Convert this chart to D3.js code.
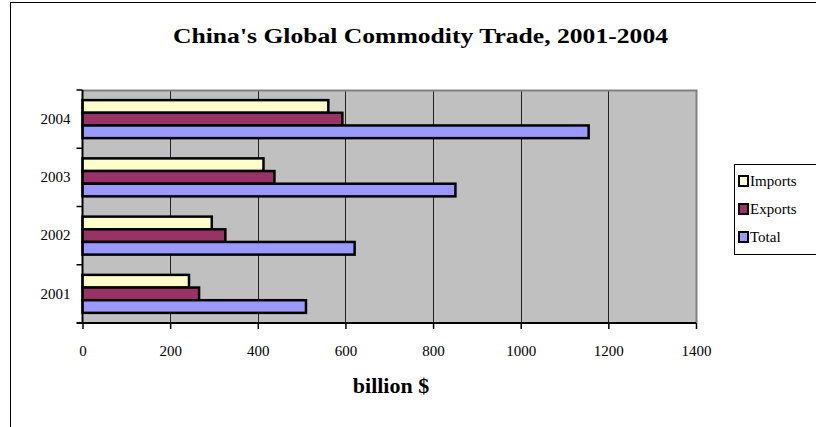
<!DOCTYPE html>
<html>
<head>
<meta charset="utf-8">
<script src="https://cdn.jsdelivr.net/npm/d3@7"></script>
<style>
	body { margin: 0; background: #fff; }
	text { font-family: "Liberation Serif", "DejaVu Serif", serif; fill: #000; }
</style>
</head>
<body>
<div id="chart"></div>
<script>
//---------------- data ----------------------
var years = ["2001", "2002", "2003", "2004"];
var series = ["Imports", "Exports", "Total"];
var imports = [243, 295, 413, 561];
var exports = [266, 326, 438, 593];
var totals = [510, 621, 851, 1155];
var xTicks = [0, 200, 400, 600, 800, 1000, 1200, 1400];
var seriesColors = ["#FFFFCC", "#993366", "#9999FF"];

var w = 816;
var h = 427;
var plotLeft = 82.5;
var plotRight = 696;
var plotTop = 90;
var plotBottom = 323;

//---------------- scales ----------------------
var xScale = d3.scaleLinear()
	.domain([0, 1400])
	.range([plotLeft, plotRight]);

// 2004 on top
var yScale = d3.scaleBand()
	.domain(years)
	.range([plotBottom, plotTop]);

var inner = d3.scaleBand()
	.domain(series)
	.range([0, yScale.bandwidth()])
	.paddingOuter(0.8);

var colors = d3.scaleOrdinal()
	.domain(series)
	.range(seriesColors);

var values = {
	"Imports": imports,
	"Exports": exports,
	"Total": totals
};

var svg = d3.select("#chart").append("svg")
	.attr("width", w)
	.attr("height", h);

// outer frame
svg.append("rect")
	.attr("x", 10.5)
	.attr("y", 2.5)
	.attr("width", w)
	.attr("height", h)
	.attr("fill", "#fff")
	.attr("stroke", "#000")
	.attr("stroke-width", 1);

// title
svg.append("text")
	.attr("x", 420.5)
	.attr("y", 43)
	.attr("text-anchor", "middle")
	.attr("font-size", 22)
	.attr("font-weight", "bold")
	.attr("textLength", 495)
	.attr("lengthAdjust", "spacingAndGlyphs")
	.text("China's Global Commodity Trade, 2001-2004");

// plot background
svg.append("rect")
	.attr("x", plotLeft)
	.attr("y", plotTop)
	.attr("width", plotRight - plotLeft)
	.attr("height", plotBottom - plotTop)
	.attr("fill", "#C0C0C0");

// vertical gridlines
svg.append("g")
	.selectAll("line")
	.data(xTicks.slice(1, -1))
	.enter()
	.append("line")
	.attr("x1", function(d) { return Math.round(xScale(d)) + 0.5; })
	.attr("x2", function(d) { return Math.round(xScale(d)) + 0.5; })
	.attr("y1", plotTop)
	.attr("y2", plotBottom)
	.attr("stroke", "#222")
	.attr("stroke-width", 1);

// plot border top & right (grey)
svg.append("path")
	.attr("d", "M" + plotLeft + "," + (plotTop + 0.5) + "H" + (plotRight + 0.5) + "V" + plotBottom)
	.attr("fill", "none")
	.attr("stroke", "#808080")
	.attr("stroke-width", 2);

// bars
var groups = svg.append("g")
	.selectAll("g")
	.data(years)
	.enter()
	.append("g")
	.attr("transform", function(d) { return "translate(0," + yScale(d) + ")"; });

groups.selectAll("rect")
	.data(function(d, i) {
		return series.map(function(s) { return { key: s, value: values[s][i] }; });
	})
	.enter()
	.append("rect")
	.attr("x", xScale(0))
	.attr("y", function(d) { return inner(d.key); })
	.attr("width", function(d) { return xScale(d.value) - xScale(0); })
	.attr("height", inner.bandwidth())
	.attr("fill", function(d) { return colors(d.key); })
	.attr("stroke", "#000")
	.attr("stroke-width", 2.5);

// x axis
var xAxis = d3.axisBottom(xScale)
	.tickValues(xTicks)
	.tickFormat(d3.format("d"))
	.tickSize(6)
	.tickPadding(16);

svg.append("g")
	.attr("class", "axis")
	.attr("transform", "translate(0," + plotBottom + ")")
	.call(xAxis)
	.call(function(g) {
		g.select(".domain").attr("stroke", "#000").attr("stroke-width", 2)
			.attr("d", "M" + (plotLeft - 6) + ",0H" + plotRight);
		g.selectAll(".tick line").attr("stroke", "#000").attr("stroke-width", 1.5);
		g.selectAll(".tick text")
			.attr("font-family", "Liberation Serif, serif")
			.attr("font-size", 15)
			.attr("fill", "#000");
	});

// y axis
var yAxis = d3.axisLeft(yScale)
	.tickSize(0)
	.tickPadding(12);

svg.append("g")
	.attr("transform", "translate(" + plotLeft + ",0)")
	.call(yAxis)
	.call(function(g) {
		g.select(".domain").attr("stroke", "#000").attr("stroke-width", 2)
			.attr("d", "M0," + plotTop + "V" + plotBottom);
		g.selectAll(".tick text")
			.attr("font-family", "Liberation Serif, serif")
			.attr("font-size", 15)
			.attr("fill", "#000");
	});

// y tick marks at band boundaries
svg.append("g")
	.selectAll("line")
	.data(years)
	.enter()
	.append("line")
	.attr("x1", plotLeft - 6)
	.attr("x2", plotLeft)
	.attr("y1", function(d) { return yScale(d); })
	.attr("y2", function(d) { return yScale(d); })
	.attr("stroke", "#000")
	.attr("stroke-width", 1.5);

// x axis label
svg.append("text")
	.attr("x", 391)
	.attr("y", 393)
	.attr("text-anchor", "middle")
	.attr("font-size", 22)
	.attr("font-weight", "bold")
	.text("billion $");

// legend
var legend = svg.append("g");

legend.append("rect")
	.attr("x", 734.5)
	.attr("y", 164.5)
	.attr("width", 90)
	.attr("height", 90)
	.attr("fill", "#fff")
	.attr("stroke", "#000")
	.attr("stroke-width", 1);

var items = legend.selectAll("g.item")
	.data(series)
	.enter()
	.append("g")
	.attr("class", "item")
	.attr("transform", function(d, i) { return "translate(739," + (181 + i * 28) + ")"; });

items.append("rect")
	.attr("x", 0)
	.attr("y", -5)
	.attr("width", 9)
	.attr("height", 10)
	.attr("fill", function(d) { return colors(d); })
	.attr("stroke", "#000")
	.attr("stroke-width", 2);

items.append("text")
	.attr("x", 11)
	.attr("y", 5)
	.attr("font-size", 15)
	.text(function(d) { return d; });
</script>
</body>
</html>
